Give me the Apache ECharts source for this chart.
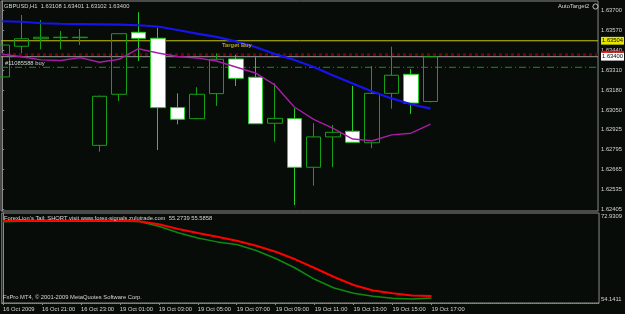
<!DOCTYPE html>
<html><head><meta charset="utf-8">
<script src="https://cdn.jsdelivr.net/npm/echarts@6/dist/echarts.min.js"></script>
<style>html,body{margin:0;padding:0;background:#080c08;}#c{width:625px;height:314px;}</style>
</head><body><div id="c"></div>
<script>
// ---- data ----
const symbolName = 'GBPUSD,H1';
const timeLabels = ['16 Oct 2009','16 Oct 21:00','16 Oct 23:00','19 Oct 01:00','19 Oct 03:00','19 Oct 05:00',
  '19 Oct 07:00','19 Oct 09:00','19 Oct 11:00','19 Oct 13:00','19 Oct 15:00','19 Oct 17:00'];
const opens  = [1.63268,1.63468,1.63517,1.63524,1.63524,1.62822,1.63155,1.63559,1.63520,1.63068,1.62996,1.63159,
  1.63385,1.63266,1.62966,1.62996,1.62679,1.62877,1.62914,1.62839,1.63161,1.63285,1.63108];
const closes = [1.63476,1.63517,1.63527,1.63527,1.63527,1.63142,1.63550,1.63520,1.63068,1.62992,1.63155,1.63383,
  1.63259,1.62963,1.62998,1.62679,1.62877,1.62907,1.62842,1.63161,1.63279,1.63098,1.63400];
const lows   = [1.63268,1.63424,1.63448,1.63448,1.63476,1.62781,1.63111,1.63372,1.62792,1.62959,1.62992,1.63079,
  1.63209,1.62961,1.62846,1.62433,1.62559,1.62679,1.62842,1.62803,1.63061,1.63027,1.63102];
const highs  = [1.63498,1.63672,1.63639,1.63568,1.63581,1.63147,1.63550,1.63690,1.63589,1.63161,1.63201,1.63422,
  1.63411,1.63396,1.63227,1.63064,1.62966,1.62955,1.63209,1.63339,1.63465,1.63320,1.63401];
const maBlue = [1.63631,1.63628,1.63618,1.63615,1.63613,1.63611,1.63609,1.63605,1.63597,1.63574,1.63551,1.63529,
  1.63500,1.63463,1.63418,1.63379,1.63333,1.63278,1.63225,1.63173,1.63128,1.63090,1.63061];
const maMagenta = [1.63416,1.63400,1.63379,1.63375,1.63394,1.63364,1.63383,1.63452,1.63424,1.63401,1.63392,1.63372,
  1.63333,1.63294,1.63216,1.63072,1.62991,1.62932,1.62863,1.62852,1.62890,1.62901,1.62961];
const priceTicks = [1.637,1.6357,1.6344,1.6331,1.6318,1.6305,1.62925,1.62795,1.62665,1.62535,1.62405];
const targetBuy = 1.63504;
const askPrice = 1.63413;
const bidPrice = 1.63400;
const orderPrice = 1.63331;
const orderName = '#11085588 buy';
const tailRed   = [71.80,71.91,71.91,71.91,71.91,71.91,71.91,71.73,71.05,69.99,69.08,68.24,67.34,66.21,64.85,63.13,
  61.16,59.12,57.31,56.07,55.43,54.93,54.82];
const tailGreen = [71.64,71.75,71.75,71.75,71.75,71.75,71.75,71.69,70.60,69.13,67.95,67.07,66.46,65.12,63.31,61.16,
  58.60,56.63,55.43,54.75,54.32,54.14,54.37];
const tailTicks = [72.9309,54.1411];
const tailName = "ForexLion's Tail: SHORT visit www.forex-signals.zulutrade.com";
const tailValues = ['55.2739','55.5858'];

// ---- chart ----
const FONT = 'Liberation Sans, Arial, sans-serif';
const FS = 5.8;
const TXT = '#d6d6d6';
const BG = '#080c08';
const FRAME = '#8a8a8a';
const idx = opens.map((_, i) => i);
const candleData = idx.map(i => [i, opens[i], closes[i], lows[i], highs[i]]);
const xMin = -0.0612, xMax = 30.602;
const tickIdx = timeLabels.map((_, k) => k * 2);

const chart = echarts.init(document.getElementById('c'), null, {renderer: 'canvas'});
function hline(value, color, width, type, boxBg, z) {
  const s = {type: 'line', xAxisIndex: 0, yAxisIndex: 0, data: [[xMin, value], [xMax, value]], z: z, silent: true,
    symbol: 'none', lineStyle: {color: color, width: width, type: type}};
  if (boxBg) {
    s.endLabel = {show: true, distance: 3, formatter: value.toFixed(5), backgroundColor: boxBg, color: '#000',
      fontSize: FS, fontFamily: FONT, padding: [1, 1, 0, 1], lineHeight: FS + 1};
  }
  return s;
}

chart.setOption({
  animation: false,
  backgroundColor: BG,
  grid: [
    {left: 1, top: 1, width: 601, height: 210, show: true, borderColor: FRAME, borderWidth: 1, backgroundColor: BG},
    {left: 1, top: 213, width: 601, height: 90, show: true, borderColor: FRAME, borderWidth: 1, backgroundColor: BG}
  ],
  xAxis: [
    {type: 'value', gridIndex: 0, min: xMin, max: xMax, show: false},
    {type: 'value', gridIndex: 1, min: xMin, max: xMax,
      axisLine: {show: true, lineStyle: {color: FRAME, type: 'dotted'}},
      axisTick: {show: true, customValues: tickIdx, length: 2, lineStyle: {color: FRAME}},
      splitLine: {show: false},
      axisLabel: {customValues: tickIdx, formatter: v => timeLabels[Math.round(v / 2)] || '',
        color: TXT, fontSize: FS, fontFamily: FONT, align: 'left', margin: 3, showMinLabel: true, showMaxLabel: true}}
  ],
  yAxis: [
    {type: 'value', gridIndex: 0, position: 'right', min: 1.623939, max: 1.637632, scale: true,
      axisLine: {show: true, lineStyle: {color: FRAME}},
      axisTick: {show: true, customValues: priceTicks, length: 2, lineStyle: {color: FRAME}},
      splitLine: {show: false},
      axisLabel: {customValues: priceTicks, formatter: v => v.toFixed(5), color: TXT, fontSize: FS,
        fontFamily: FONT, margin: 3, showMinLabel: true, showMaxLabel: true}},
    {type: 'value', gridIndex: 1, position: 'right', min: 53.2356, max: 73.61, scale: true,
      axisLine: {show: true, lineStyle: {color: FRAME}},
      axisTick: {show: false},
      splitLine: {show: false},
      axisLabel: {customValues: tailTicks, formatter: v => v.toFixed(4), color: TXT, fontSize: FS,
        fontFamily: FONT, margin: 2, showMinLabel: true, showMaxLabel: true}}
  ],
  series: [
    hline(orderPrice, '#1c8f1c', 1, [7, 3, 1, 3], null, 1),
    hline(targetBuy, '#c6c600', 1, 'solid', '#e6e600', 2),
    hline(askPrice, '#7a0000', 3, 'dotted', '#ff0000', 3),
    hline(bidPrice, '#9a9a9a', 1, 'solid', '#ffffff', 4),
    {type: 'candlestick', xAxisIndex: 0, yAxisIndex: 0, data: candleData, barWidth: 15, z: 5,
      itemStyle: {color: 'transparent', color0: '#ffffff', borderColor: '#16a016', borderColor0: '#26cf26', borderWidth: 1}},
    {type: 'line', xAxisIndex: 0, yAxisIndex: 0, data: idx.map(i => [i, maBlue[i]]), symbol: 'none', z: 6,
      lineStyle: {color: '#1414f0', width: 2.2}},
    {type: 'line', xAxisIndex: 0, yAxisIndex: 0, data: idx.map(i => [i, maMagenta[i]]), symbol: 'none', z: 6,
      lineStyle: {color: '#a81ca8', width: 1.4}},
    {type: 'line', xAxisIndex: 1, yAxisIndex: 1, data: idx.map(i => [i, tailGreen[i]]), symbol: 'none', z: 5,
      lineStyle: {color: '#0f8a0f', width: 1.5}},
    {type: 'line', xAxisIndex: 1, yAxisIndex: 1, data: idx.map(i => [i, tailRed[i]]), symbol: 'none', z: 6,
      lineStyle: {color: '#ff0000', width: 2}}
  ],
  graphic: [
    {type: 'text', left: 4, top: 3, z: 100, style: {text: symbolName + '  ' + [opens[22], highs[22], lows[22], closes[22]].map(v => v.toFixed(5)).join(' '),
      fill: TXT, fontSize: FS, fontFamily: FONT}},
    {type: 'text', left: 558, top: 3.5, z: 100, style: {text: 'AutoTarget2', fill: TXT, fontSize: FS, fontFamily: FONT}},
    {type: 'circle', z: 100, shape: {cx: 595.5, cy: 6.5, r: 2.6}, style: {fill: 'none', stroke: '#c0c0c0', lineWidth: 1}},
    {type: 'text', left: 222, top: 42.5, z: 100, style: {text: 'Target Buy', fill: '#b8a616', fontSize: FS, fontFamily: FONT, fontWeight: 'bold'}},
    {type: 'text', left: 5, top: 60, z: 100, style: {text: orderName, fill: TXT, fontSize: FS, fontFamily: FONT}},
    {type: 'text', left: 4, top: 215, z: 100, style: {text: tailName + '  ' + tailValues.join(' '), fill: TXT, fontSize: FS, fontFamily: FONT}},
    {type: 'text', left: 3, top: 294.5, z: 100, style: {text: 'FxPro MT4, \u00a9 2001-2009 MetaQuotes Software Corp.', fill: TXT, fontSize: FS, fontFamily: FONT}}
  ]
});
</script></body></html>
